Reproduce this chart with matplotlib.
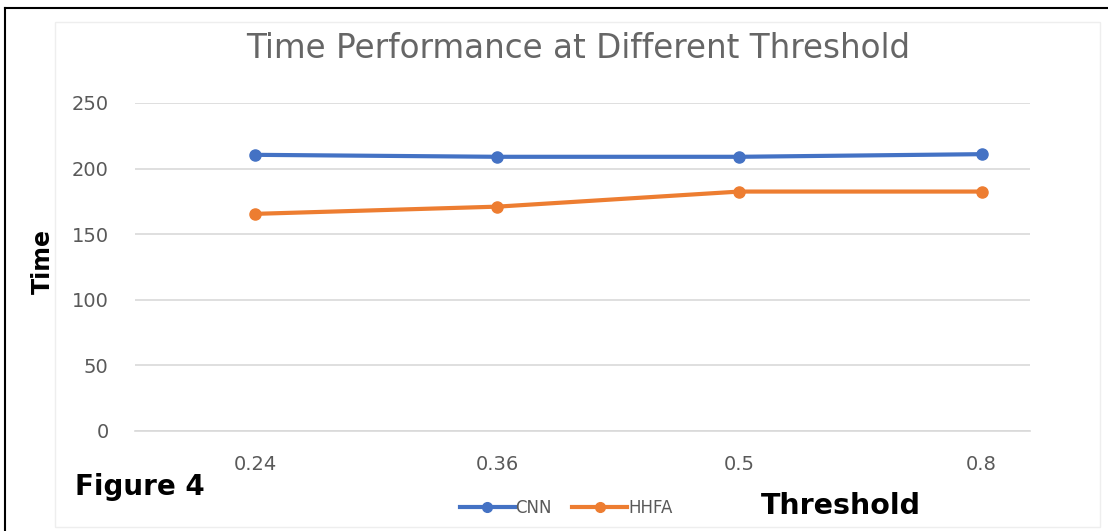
import matplotlib.pyplot as plt
from matplotlib.lines import Line2D

plt.rcParams['font.family'] = ['DejaVu Sans']

# data
thresholds = ['0.24', '0.36', '0.5', '0.8']
cnn_time = [210.5, 209, 209, 211]
hhfa_time = [165.5, 171, 182.5, 182.5]
y_ticks = [0, 50, 100, 150, 200, 250]

BLUE = '#4472C4'
ORANGE = '#ED7D31'
GREY = '#595959'

fig = plt.figure(figsize=(11.08, 5.31), dpi=100)
ax = fig.add_axes([135 / 1108, 1 - 431 / 531, (1030 - 135) / 1108, (431 - 103) / 531])

xs = range(len(thresholds))
ax.plot(xs, cnn_time, color=BLUE, lw=3, marker='o', ms=8, zorder=3)
ax.plot(xs, hhfa_time, color=ORANGE, lw=3, marker='o', ms=8, zorder=3)

ax.set_xlim(-0.496, 3.2)
ax.set_ylim(0, 250)
ax.set_yticks(y_ticks)
ax.set_xticks(list(xs))
ax.set_xticklabels(thresholds)
ax.grid(axis='y', color='#d9d9d9', lw=1.2)
ax.set_axisbelow(True)
for s in ['top', 'right', 'left']:
    ax.spines[s].set_visible(False)
ax.spines['bottom'].set_color('#d9d9d9')
ax.spines['bottom'].set_linewidth(1.2)
ax.tick_params(length=0, colors=GREY, labelsize=14)
ax.tick_params(axis='x', pad=17)
ax.tick_params(axis='y', pad=19)

fig.text(578 / 1108, 1 - 48 / 531, 'Time Performance at Different Threshold',
         ha='center', va='center', fontsize=23.5, color='#666666')
fig.text(43 / 1108, 1 - 261 / 531, 'Time', rotation=90, ha='center', va='center',
         fontsize=17, fontweight='bold', color='black')
fig.text(75 / 1108, 1 - 487 / 531, 'Figure 4', ha='left', va='center',
         fontsize=20, fontweight='bold', color='black')
fig.text(761 / 1108, 1 - 506 / 531, 'Threshold', ha='left', va='center',
         fontsize=20.5, fontweight='bold', color='black')

handles = [Line2D([], [], color=BLUE, lw=3, marker='o', ms=7),
           Line2D([], [], color=ORANGE, lw=3, marker='o', ms=7)]
fig.legend(handles, ['CNN', 'HHFA'], loc='center', bbox_to_anchor=(566 / 1108, 1 - 508 / 531),
           ncol=2, frameon=False, fontsize=12, labelcolor=GREY,
           handlelength=3.3, handletextpad=0.05, columnspacing=1.2)

# outer black frame (left and top) and faint chart border
fig.add_artist(Line2D([5 / 1108, 5 / 1108], [0, 1 - 8 / 531], color='black', lw=1.5))
fig.add_artist(Line2D([5 / 1108, 1], [1 - 8 / 531, 1 - 8 / 531], color='black', lw=1.5))
fig.add_artist(plt.Rectangle((55 / 1108, 4 / 531), 1045 / 1108, 1 - 26 / 531,
                             fill=False, ec='#eeeeee', lw=1))

fig.savefig('out.png', dpi=100)
